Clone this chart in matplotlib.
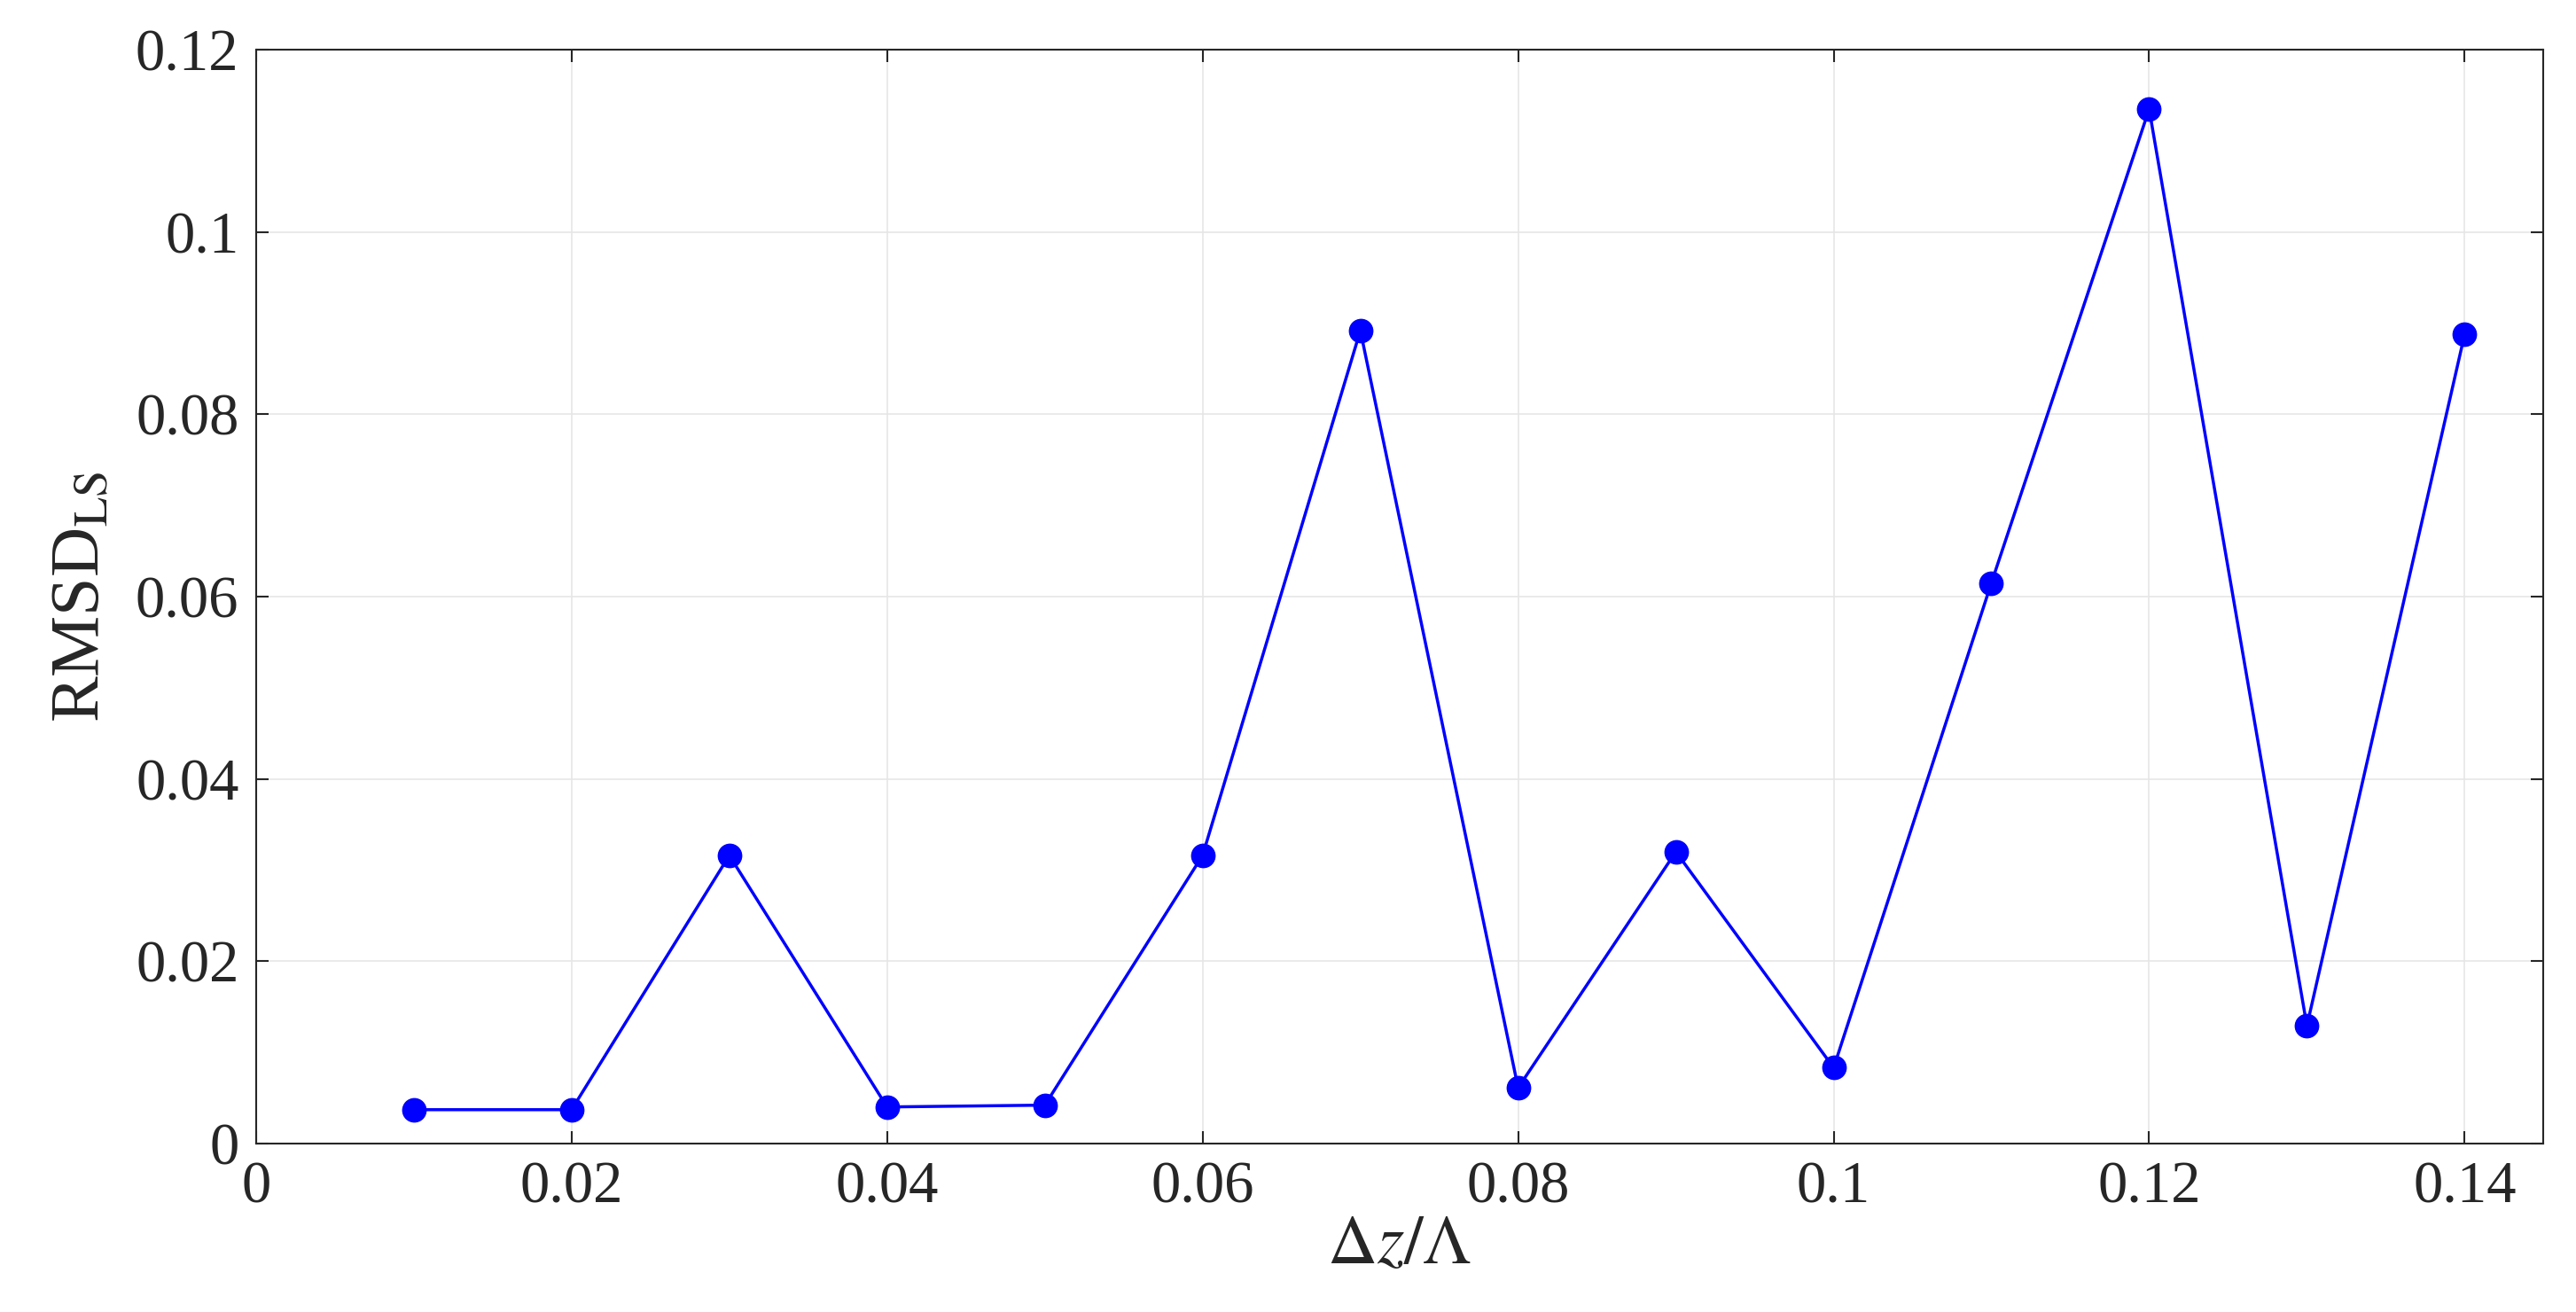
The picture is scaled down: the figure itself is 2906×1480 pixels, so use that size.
import matplotlib
matplotlib.use("Agg")
import matplotlib.pyplot as plt

x = [0.01,0.02,0.03,0.04,0.05,0.06,0.07,0.08,0.09,0.10,0.11,0.12,0.13,0.14]
y = [0.0037,0.0037,0.0316,0.0040,0.0042,0.0316,0.0892,0.0061,0.0320,0.0083,0.0615,0.1135,0.0129,0.0888]
xticks = [0,0.02,0.04,0.06,0.08,0.1,0.12,0.14]
xticklabels = ["0","0.02","0.04","0.06","0.08","0.1","0.12","0.14"]
yticks = [0,0.02,0.04,0.06,0.08,0.1,0.12]
yticklabels = ["0","0.02","0.04","0.06","0.08","0.1","0.12"]

plt.rcParams['font.family'] = ['Liberation Serif', 'DejaVu Serif']
plt.rcParams['mathtext.fontset'] = 'stix'
fig = plt.figure(figsize=(29.06,14.80), dpi=100)
ax = fig.add_axes([0.0994,0.1285,0.888,0.8335])
ax.plot(x, y, color='#0000ff', lw=2.5, marker='o', ms=19)
ax.set_xlim(0,0.145); ax.set_ylim(0,0.12)
ax.set_xticks(xticks); ax.set_xticklabels(xticklabels)
ax.set_yticks(yticks); ax.set_yticklabels(yticklabels)
ax.tick_params(labelsize=48, direction='in', length=10, width=1.5, colors='#262626', top=True, right=True, pad=14)
ax.grid(True, color='#e6e6e6', lw=1.2)
for s in ax.spines.values():
    s.set_linewidth(1.5); s.set_color('#262626')
ax.set_xlabel(r'$\Delta z/\Lambda$', fontsize=56, color='#262626', labelpad=0)
ax.set_ylabel(r'RMSD$_{\mathrm{LS}}$', fontsize=56, color='#262626', labelpad=18)
fig.savefig('out.png', dpi=100)
